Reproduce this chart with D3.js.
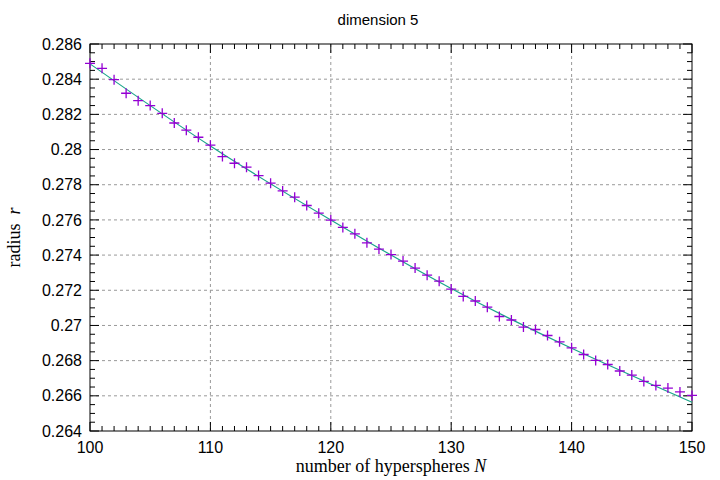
<!DOCTYPE html>
<html><head><meta charset="utf-8">
<script src="https://cdn.jsdelivr.net/npm/d3@7"></script>
<style>body{margin:0;background:#fff}</style>
</head><body>
<div id="chart"></div>
<script>
// measured radii, N = 100..150
var nValues = d3.range(100, 151);
var radii = [0.2849,0.28462,0.28397,0.2832,0.28278,0.2825,0.28206,0.28151,0.2811,0.2807,
  0.28025,0.2796,0.27922,0.279,0.27852,0.27809,0.27765,0.27729,0.27682,0.27638,
  0.27599,0.27557,0.27521,0.2747,0.27434,0.27403,0.27366,0.27326,0.27286,0.27252,
  0.27207,0.27165,0.27139,0.27104,0.27051,0.27031,0.26991,0.26977,0.26943,0.26907,
  0.26873,0.26835,0.26801,0.26778,0.26741,0.26718,0.26682,0.26659,0.26644,0.26622,0.26602];
// fitted curve
var fitN = [100, 110, 120, 130, 140, 150];
var fitR = [0.28487, 0.2802, 0.2760, 0.2721, 0.2687, 0.26563];
var xTicks = [100, 110, 120, 130, 140, 150];
var yTicks = d3.range(0.264, 0.28601, 0.002);

var margin = {top:44, right:28, bottom:49, left:90},
  width = 720 - margin.left - margin.right,
  height = 480 - margin.top - margin.bottom;

var svg = d3.select("#chart").append("svg").attr("width", 720).attr("height", 480)
  .style("font-family", "'Liberation Sans', Arial, sans-serif");
var g = svg.append("g").attr("transform", "translate(" + margin.left + "," + margin.top + ")");

var x = d3.scaleLinear().domain([100, 150]).range([0, width]);
var y = d3.scaleLinear().domain([0.264, 0.286]).range([height, 0]);

// grid
g.selectAll(".gx").data(xTicks.slice(1, -1)).enter().append("line")
  .attr("x1", x).attr("x2", x).attr("y1", 0).attr("y2", height)
  .attr("stroke", "#999").attr("stroke-dasharray", "3,3");
g.selectAll(".gy").data(yTicks.slice(1, -1)).enter().append("line")
  .attr("y1", y).attr("y2", y).attr("x1", 0).attr("x2", width)
  .attr("stroke", "#999").attr("stroke-dasharray", "3,3");

// minor ticks
var minorX = d3.range(100, 151, 1), minorY = d3.range(0.264, 0.28601, 0.0005);
[[height, -1], [0, 1]].forEach(function(p) {
  g.selectAll(null).data(minorX).enter().append("line")
    .attr("x1", x).attr("x2", x).attr("y1", p[0]).attr("y2", function(d){ return p[0] + p[1]*(d % 10 === 0 ? 9 : 5); })
    .attr("stroke", "#000");
});
[[0, 1], [width, -1]].forEach(function(p) {
  g.selectAll(null).data(minorY).enter().append("line")
    .attr("y1", y).attr("y2", y).attr("x1", p[0])
    .attr("x2", function(d){ return p[0] + p[1]*(Math.abs(d/0.002 - Math.round(d/0.002)) < 1e-6 ? 9 : 5); })
    .attr("stroke", "#000");
});

g.append("rect").attr("width", width).attr("height", height)
  .attr("fill", "none").attr("stroke", "#000");

// tick labels
g.selectAll(".xl").data(xTicks).enter().append("text")
  .attr("x", x).attr("y", height + 22).attr("text-anchor", "middle")
  .attr("font-size", 16).text(function(d){ return d; });
g.selectAll(".yl").data(yTicks).enter().append("text")
  .attr("x", -8).attr("y", y).attr("dy", "0.35em").attr("text-anchor", "end")
  .attr("font-size", 16).text(function(d){ return d3.format(".3~f")(d); });

// fit line
g.append("path").datum(fitN)
  .attr("d", d3.line().x(function(d){ return x(d); }).y(function(d, i){ return y(fitR[i]); }).curve(d3.curveNatural))
  .attr("fill", "none").attr("stroke", "#1aa58a").attr("stroke-width", 1.2);

// markers
g.selectAll(".pt").data(nValues).enter().append("path")
  .attr("transform", function(d, i){ return "translate(" + x(d) + "," + y(radii[i]) + ")"; })
  .attr("d", "M-5,0H5M0,-5V5").attr("stroke", "#9400d3").attr("stroke-width", 1.3);

svg.append("text").attr("x", 378).attr("y", 25).attr("text-anchor", "middle")
  .attr("font-size", 15).text("dimension 5");
svg.append("text").attr("x", 391).attr("y", 472).attr("text-anchor", "middle")
  .attr("font-family", "'Liberation Serif', serif").attr("font-size", 18)
  .html("number of hyperspheres <tspan font-style='italic'>N</tspan>");
svg.append("text").attr("transform", "translate(20," + (margin.top + height/2) + ") rotate(-90)")
  .attr("text-anchor", "middle").attr("font-family", "'Liberation Serif', serif").attr("font-size", 18)
  .html("radius &#160;<tspan font-style='italic'>r</tspan>");
</script>
</body></html>
